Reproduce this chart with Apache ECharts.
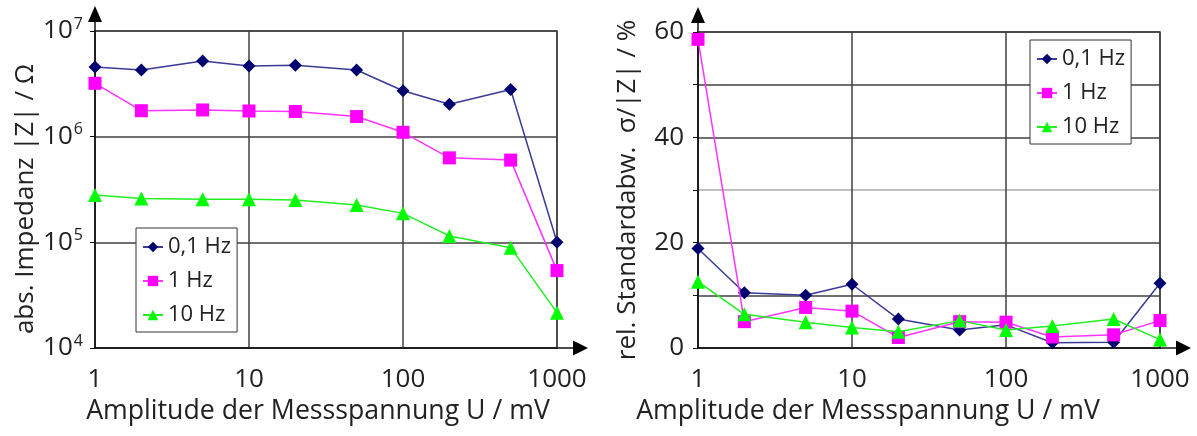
<!DOCTYPE html>
<html><head><meta charset="utf-8">
<script src="https://cdn.jsdelivr.net/npm/echarts@6/dist/echarts.min.js"></script>
<style>html,body{margin:0;padding:0;background:#fff}#c{width:1197px;height:436px}</style>
</head><body><div id="c"></div>
<script>
const categories = [1, 2, 5, 10, 20, 50, 100, 200, 500, 1000];
const seriesNames = ['0,1 Hz', '1 Hz', '10 Hz'];
const impedance01 = [4.57e6, 4.27e6, 5.2e6, 4.67e6, 4.73e6, 4.27e6, 2.72e6, 2.03e6, 2.8e6, 1.0e5];
const impedance1 = [3.2e6, 1.76e6, 1.79e6, 1.75e6, 1.73e6, 1.55e6, 1.1e6, 6.3e5, 6.0e5, 5.4e4];
const impedance10 = [2.8e5, 2.6e5, 2.56e5, 2.56e5, 2.52e5, 2.26e5, 1.88e5, 1.15e5, 8.9e4, 2.16e4];
const stdev01 = [18.9, 10.5, 10.0, 12.1, 5.5, 3.4, 4.4, 1.0, 1.1, 12.3];
const stdev1 = [58.6, 5.0, 7.7, 7.0, 2.0, 5.0, 4.9, 2.1, 2.5, 5.2];
const stdev10 = [12.6, 6.4, 4.9, 3.9, 3.1, 5.2, 3.4, 4.2, 5.5, 1.6];
const xTickLabels = ['1', '10', '100', '1000'];
const yTickLabelsRight = ['0', '20', '40', '60'];
const xTitle = 'Amplitude der Messspannung U / mV';
const yTitleLeft = 'abs. Impedanz |Z| / Ω';
const yTitleRight = 'rel. Standardabw.  σ/|Z| / %';

const FONT = 'Open Sans';
const TXT = '#222';
const GRIDC = '#404040';
const G1 = {left: 95, top: 31, width: 462, height: 317};
const G2 = {left: 698, top: 32, width: 462, height: 316};

const styles = [
  {symbol: 'diamond', symbolSize: 13, line: '#3a3a96', mark: '#000070'},
  {symbol: 'rect', symbolSize: 13, line: '#ff33ff', mark: '#ff00ff'},
  {symbol: 'triangle', symbolSize: 14, line: '#22ee22', mark: '#00ff00'}
];

function pairs(vals) { return categories.map((c, i) => [c, vals[i]]); }
function mkSeries(vals, k, xi) {
  const s = styles[k];
  return {
    name: seriesNames[k], type: 'line', xAxisIndex: xi, yAxisIndex: xi,
    data: pairs(vals), symbol: s.symbol, symbolSize: s.symbolSize, clip: false,
    lineStyle: {color: s.line, width: 1.5},
    itemStyle: {color: s.mark}, z: 5 + k
  };
}
function xAx(gi) {
  return {
    type: 'log', logBase: 10, gridIndex: gi, min: 1, max: 1000,
    axisLine: {show: true, lineStyle: {color: '#111', width: 1.5}},
    axisTick: {show: false},
    splitLine: {show: true, lineStyle: {color: GRIDC, width: 1.5}},
    axisLabel: {fontFamily: FONT, fontSize: 26, color: TXT, margin: 19,
      formatter: v => { const e = Math.round(Math.log10(v)); return xTickLabels[e] || ''; }}
  };
}

const option = {
  animation: false,
  backgroundColor: '#fff',
  grid: [
    Object.assign({show: true, borderColor: GRIDC, borderWidth: 1.5, containLabel: false}, G1),
    Object.assign({show: true, borderColor: GRIDC, borderWidth: 1.5, containLabel: false}, G2)
  ],
  xAxis: [xAx(0), xAx(1)],
  yAxis: [
    {type: 'log', logBase: 10, gridIndex: 0, min: 1e4, max: 1e7,
     axisLine: {show: true, lineStyle: {color: '#111', width: 1.5}},
     axisTick: {show: true, inside: false, length: 5, lineStyle: {color: '#111'}},
     splitLine: {show: true, lineStyle: {color: GRIDC, width: 1.5}},
     axisLabel: {margin: 12, color: TXT, fontFamily: FONT,
       formatter: v => '{b|10}{s|' + Math.round(Math.log10(v)) + '}',
       rich: {b: {fontSize: 26, fontFamily: FONT, color: TXT, lineHeight: 30},
              s: {fontSize: 16, fontFamily: FONT, color: TXT, verticalAlign: 'top', lineHeight: 30, padding: [0, 0, 12, 1]}}}},
    {type: 'value', gridIndex: 1, min: 0, max: 60, interval: 10,
     axisLine: {show: true, lineStyle: {color: '#111', width: 1.5}},
     axisTick: {show: true, inside: false, length: 5, lineStyle: {color: '#111'}},
     splitLine: {show: true, lineStyle: {color: [GRIDC, GRIDC, GRIDC, '#aaaaaa', GRIDC, GRIDC, GRIDC], width: 1.5}},
     axisLabel: {margin: 14, fontFamily: FONT, fontSize: 26, color: TXT,
       formatter: v => (v % 20 === 0 ? yTickLabelsRight[v / 20] : '')}}
  ],
  legend: [
    {data: seriesNames, orient: 'vertical', left: 136, top: 228, itemWidth: 20, itemHeight: 13, itemGap: 12,
     backgroundColor: '#fff', borderColor: '#333', borderWidth: 1, padding: [8, 6, 6, 6],
     textStyle: {fontFamily: FONT, fontSize: 22, color: TXT}, z: 20},
    {data: seriesNames, orient: 'vertical', left: 1030, top: 40, itemWidth: 20, itemHeight: 13, itemGap: 12,
     backgroundColor: '#fff', borderColor: '#333', borderWidth: 1, padding: [8, 6, 6, 6],
     textStyle: {fontFamily: FONT, fontSize: 22, color: TXT}, z: 20}
  ],
  series: [
    mkSeries(impedance01, 0, 0), mkSeries(impedance1, 1, 0), mkSeries(impedance10, 2, 0),
    mkSeries(stdev01, 0, 1), mkSeries(stdev1, 1, 1), mkSeries(stdev10, 2, 1)
  ]
};

function arrows(G) {
  const x0 = G.left, y0 = G.top + G.height, x1 = G.left + G.width;
  return [
    {type: 'line', shape: {x1: x1, y1: y0, x2: x1 + 20, y2: y0}, style: {stroke: '#111', lineWidth: 1.5}},
    {type: 'polygon', shape: {points: [[x1 + 31, y0], [x1 + 16, y0 - 7.5], [x1 + 16, y0 + 7.5]]}, style: {fill: '#000'}},
    {type: 'line', shape: {x1: x0, y1: G.top, x2: x0, y2: G.top - 12}, style: {stroke: '#111', lineWidth: 1.5}},
    {type: 'polygon', shape: {points: [[x0, G.top - 25], [x0 - 7, G.top - 9], [x0 + 7, G.top - 9]]}, style: {fill: '#000'}}
  ];
}
function titleText(text, x, y, rot, size) {
  return {type: 'text', x: x, y: y, rotation: rot, z: 30,
    style: {text: text, fontFamily: FONT, fontSize: size, fill: TXT, align: 'center', verticalAlign: 'middle'}};
}
option.graphic = arrows(G1).concat(arrows(G2)).concat([
  titleText(xTitle, 318, 411, 0, 26.7),
  titleText(xTitle, 868, 411, 0, 26.7),
  titleText(yTitleLeft, 26, 199, Math.PI / 2, 26),
  titleText(yTitleRight, 628, 190, Math.PI / 2, 26)
]);

const chart = echarts.init(document.getElementById('c'), null, {renderer: 'canvas'});
chart.setOption(option);
</script></body></html>
